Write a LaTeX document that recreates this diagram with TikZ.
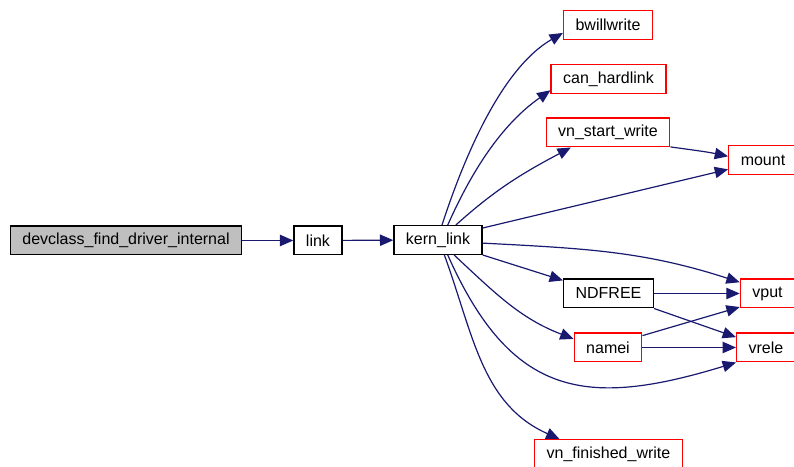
\documentclass[tikz,border=0pt]{standalone}
\usepackage{fontspec}
\setmainfont{Liberation Sans}
\usetikzlibrary{arrows.meta}

\definecolor{edgeblue}{HTML}{191970}
\definecolor{rootgray}{HTML}{BFBFBF}

\begin{document}
\begin{tikzpicture}[x=0.75pt, y=0.75pt,
    >={Triangle[length=10pt,width=8.5pt]},
    fn/.style={draw=black, line width=1pt, fill=white, minimum height=21.5pt,
      inner xsep=9pt, inner ysep=0pt, font=\fontsize{12}{14}\selectfont},
    ext/.style={fn, draw=red},
    root/.style={fn, fill=rootgray},
    call/.style={->, draw=edgeblue, line width=0.9pt}]
  \useasboundingbox (0,0) rectangle (794,467);

  % caller chain
  \node[root] (dev)  at (126,226.5) {devclass\_find\_driver\_internal};
  \node[fn]   (link) at (318,226.5) {link};
  \node[fn]   (kern) at (438,227)   {kern\_link};

  % callees of kern_link
  \node[ext] (bwill)  at (608,442)   {bwillwrite};
  \node[ext] (canh)   at (608.5,388) {can\_hardlink};
  \node[ext] (vnsw)   at (608,334.5) {vn\_start\_write};
  \node[fn]  (ndfree) at (608.5,173.5) {NDFREE};
  \node[ext] (namei)  at (608,119.5) {namei};
  \node[ext] (vnfw)   at (608.5,13)  {vn\_finished\_write};

  % right column
  \node[ext] (mount) at (763,307)    {mount};
  \node[ext] (vput)  at (767.5,173.5) {vput};
  \node[ext] (vrele) at (766,119.5)  {vrele};

  % calls
  \draw[call] (dev) -- (link);
  \draw[call] (link) -- (kern);
  \draw[call] (kern.75) to[out=72, in=210, looseness=0.8] (bwill.190);
  \draw[call] (kern.57) to[out=66, in=215, looseness=0.9] (canh.191);
  \draw[call] (kern.40) to[out=42, in=208] (vnsw.202);
  \draw[call] (vnsw.-13) to[out=-8, in=168] (mount.174);
  \draw[call] (kern.15) -- (mount.195);
  \draw[call] (kern.-4) to[out=-3, in=162] (vput.158);
  \draw[call] (kern.south east) -- (ndfree.164);
  \draw[call] (kern.-43) to[out=-43, in=159] (namei.166);
  \draw[call] (kern.-57) to[out=-66, in=197, looseness=1.3] (vrele.south west);
  \draw[call] (kern.-67) to[out=-70, in=156] (vnfw.163);
  \draw[call] (ndfree) -- (vput);
  \draw[call] (ndfree.south east) -- (vrele.161);
  \draw[call] (namei.19) -- (vput.206);
  \draw[call] (namei) -- (vrele);
\end{tikzpicture}
\end{document}
